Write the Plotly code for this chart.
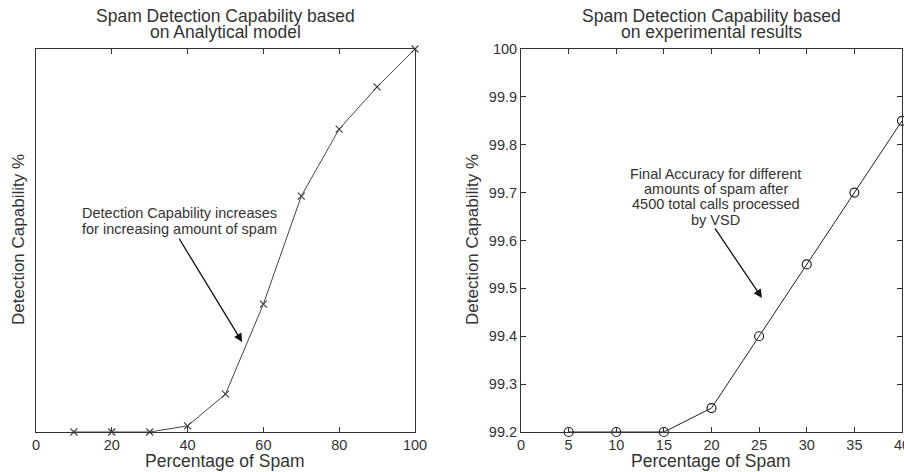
import plotly.graph_objects as go

# ---- data ----
analytical_spam_pct = [10, 20, 30, 40, 50, 60, 70, 80, 90, 100]
analytical_capability = [0, 0, 0, 1.6, 9.9, 33.4, 61.6, 79.1, 90.1, 100]

experimental_spam_pct = [5, 10, 15, 20, 25, 30, 35, 40]
experimental_capability = [99.2, 99.2, 99.2, 99.25, 99.4, 99.55, 99.7, 99.85]

left_xticks = [0, 20, 40, 60, 80, 100]
right_xticks = [0, 5, 10, 15, 20, 25, 30, 35, 40]
right_yticks = [99.2, 99.3, 99.4, 99.5, 99.6, 99.7, 99.8, 99.9, 100]

W, H = 904, 472
FONT = "Liberation Sans, Arial, sans-serif"
TXT = "#333333"
LINE = "#444444"

def px_x(p):
    return p / W

def px_y(p):
    return 1 - p / H

fig = go.Figure()
fig.add_trace(go.Scatter(
    x=analytical_spam_pct, y=analytical_capability, mode="lines+markers",
    line=dict(color=LINE, width=1),
    marker=dict(symbol="x-thin-open", size=7, line=dict(color=LINE, width=1.2)),
    xaxis="x", yaxis="y", cliponaxis=False, showlegend=False, hoverinfo="skip"))
fig.add_trace(go.Scatter(
    x=experimental_spam_pct, y=experimental_capability, mode="lines+markers",
    line=dict(color="#222222", width=1),
    marker=dict(symbol="circle-open", size=9, color="#222222", line=dict(color="#222222", width=1.2)),
    xaxis="x2", yaxis="y2", cliponaxis=False, showlegend=False, hoverinfo="skip"))

ax_common = dict(showline=True, linecolor=TXT, linewidth=1, mirror="ticks",
                 ticks="inside", ticklen=5, tickcolor=TXT, showgrid=False, zeroline=False,
                 automargin=False, ticklabeloverflow="allow",
                 tickfont=dict(family=FONT, size=14.5, color=TXT))
ydom = [px_y(432), px_y(49)]

fig.update_layout(
    width=W, height=H, margin=dict(l=0, r=0, t=0, b=0, pad=0, autoexpand=False),
    paper_bgcolor="white", plot_bgcolor="white",
    xaxis=dict(domain=[px_x(36), px_x(415)], range=[0, 100], tickvals=left_xticks, anchor="y", **ax_common),
    yaxis=dict(domain=ydom, range=[0, 100], anchor="x", showticklabels=False,
               **{k: v for k, v in ax_common.items() if k not in ("ticks",)}, ticks=""),
    xaxis2=dict(domain=[px_x(521), px_x(902)], range=[0, 40], tickvals=right_xticks, anchor="y2", **ax_common),
    yaxis2=dict(domain=ydom, range=[99.2, 100], tickvals=right_yticks,
                ticktext=[("%g" % v) for v in right_yticks], anchor="x2", **ax_common),
)

anns = []
def txt(x, y, s, size, xanchor="center", xref="paper", yref="paper", angle=0):
    anns.append(dict(x=x, y=y, xref=xref, yref=yref, text=s, showarrow=False,
                     xanchor=xanchor, yanchor="middle", textangle=angle,
                     font=dict(family=FONT, size=size, color=TXT)))

# titles
txt(px_x(225), px_y(16), "Spam Detection Capability based", 17.5)
txt(px_x(225), px_y(32), "on Analytical model", 17.5)
txt(px_x(711), px_y(16), "Spam Detection Capability based", 17.5)
txt(px_x(711), px_y(32), "on experimental results", 17.5)
# axis titles
txt(px_x(225), px_y(461), "Percentage of Spam", 17.5)
txt(px_x(711), px_y(461), "Percentage of Spam", 17.5)
txt(px_x(18), px_y(240), "Detection Capability %", 17, angle=-90)
txt(px_x(472), px_y(240), "Detection Capability %", 17, angle=-90)

# left annotation text
txt(11.6, 57.2, "Detection Capability increases", 14.5, xanchor="left", xref="x", yref="y")
txt(11.6, 53.0, "for increasing amount of spam", 14.5, xanchor="left", xref="x", yref="y")
# right annotation text
for yv, s in zip([99.739, 99.708, 99.676, 99.643],
                 ["Final Accuracy for different", "amounts of spam after",
                  "4500 total calls processed", "by VSD"]):
    txt(20.47, yv, s, 14.5, xref="x2", yref="y2")

# arrows
anns.append(dict(x=54.4, y=23.5, xref="x", yref="y", ax=-64, ay=-105, showarrow=True,
                 arrowhead=2, arrowsize=1.3, arrowwidth=1.3, arrowcolor="#111111", text=""))
anns.append(dict(x=25.3, y=99.48, xref="x2", yref="y2", ax=-48, ay=-71, showarrow=True,
                 arrowhead=2, arrowsize=1.3, arrowwidth=1.3, arrowcolor="#111111", text=""))

fig.update_layout(annotations=anns, hovermode=False)
fig.write_html("out.html", config={"displayModeBar": False, "staticPlot": True},
               post_script="document.body.style.margin='0';document.body.style.overflow='hidden';")
